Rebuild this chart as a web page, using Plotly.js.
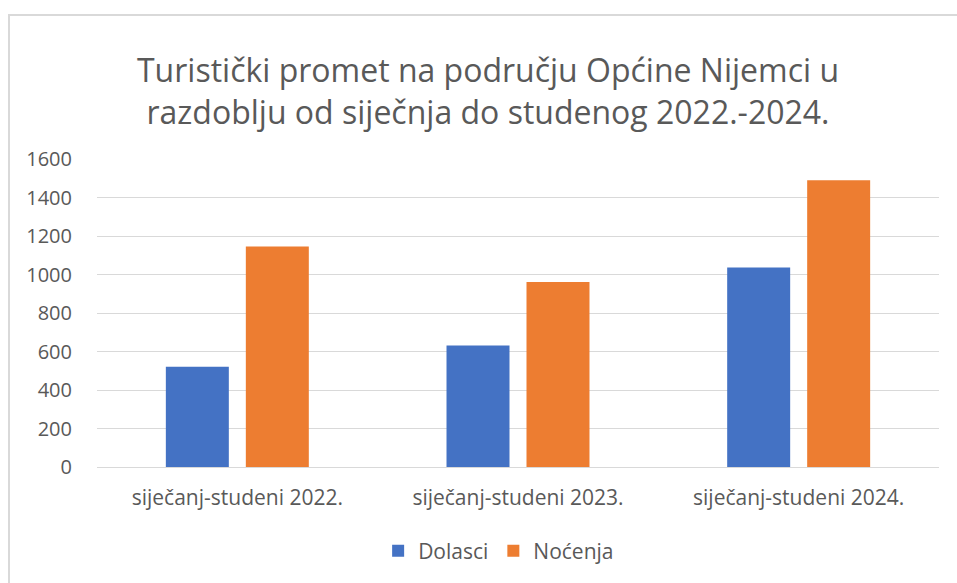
<!DOCTYPE html>
<html>
<head>
<meta charset="utf-8">
<script src="https://cdn.plot.ly/plotly-3.0.1.min.js"></script>
<style>
html,body{margin:0;padding:0;background:#fff;}
#frame{position:absolute;left:8px;top:14px;width:1000px;height:700px;border:2px solid #d9d9d9;box-sizing:border-box;}
#chart{position:absolute;left:0;top:0;width:957px;height:583px;}
</style>
</head>
<body>
<div id="frame"></div>
<div id="chart"></div>
<script>
const categories = ["siječanj-studeni 2022.", "siječanj-studeni 2023.", "siječanj-studeni 2024."];
const dolasci = [521, 631, 1037];
const nocenja = [1145, 961, 1490];
const seriesNames = ["Dolasci", "Noćenja"];
const tickVals = [0, 200, 400, 600, 800, 1000, 1200, 1400, 1600];

const FONT = "Open Sans, sans-serif";
const TXT = "#595959";

const traces = [
  {type: "bar", name: seriesNames[0], x: categories, y: dolasci, marker: {color: "#4472C4"}},
  {type: "bar", name: seriesNames[1], x: categories, y: nocenja, marker: {color: "#ED7D31"}}
];

const layout = {
  width: 957, height: 583,
  paper_bgcolor: "rgba(0,0,0,0)", plot_bgcolor: "rgba(0,0,0,0)",
  margin: {l: 97, r: 18, t: 159, b: 116},
  barmode: "group", bargap: 0.43, bargroupgap: 0.2125,
  font: {family: FONT, color: TXT},
  title: {
    text: "Turistički promet na području Općine Nijemci u<br>razdoblju od siječnja do studenog 2022.-2024.",
    font: {family: FONT, size: 32, color: TXT},
    x: 488/957, xanchor: "center", xref: "container",
    y: 1 - 82/583, yref: "container", yanchor: "middle"
  },
  xaxis: {
    type: "category", showgrid: false, zeroline: false,
    showline: true, linecolor: "#d9d9d9", linewidth: 1,
    ticks: "outside", ticklen: 12, tickcolor: "rgba(0,0,0,0)",
    tickfont: {family: FONT, size: 21, color: TXT}
  },
  yaxis: {
    range: [0, 1600], tickvals: tickVals, showgrid: true,
    gridcolor: "#d9d9d9", gridwidth: 1, zeroline: false, showline: false,
    ticks: "outside", ticklen: 20, tickcolor: "rgba(0,0,0,0)",
    tickfont: {family: FONT, size: 20, color: TXT}
  },
  showlegend: true,
  legend: {
    orientation: "h", x: 0.477, xanchor: "center", y: -0.273, yanchor: "middle",
    font: {family: FONT, size: 21, color: TXT}, itemwidth: 30, traceorder: "normal"
  }
};

Plotly.newPlot("chart", traces, layout, {displayModeBar: false, staticPlot: true});
</script>
</body>
</html>
